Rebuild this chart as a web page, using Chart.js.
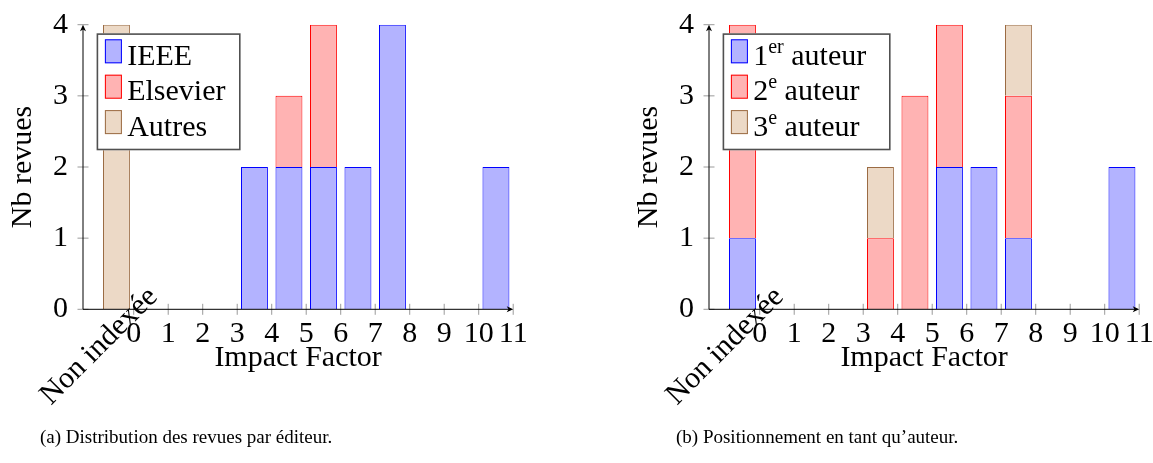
<!DOCTYPE html>
<html><head><meta charset="utf-8">
<script src="https://cdn.jsdelivr.net/npm/chart.js@4.4.1/dist/chart.umd.min.js"></script>
<style>
html,body{margin:0;padding:0;background:#fff;width:1153px;height:463px;overflow:hidden;}
#wrap{position:relative;width:1153px;height:463px;}
canvas{position:absolute;top:0;}
</style></head>
<body><div id="wrap">
<canvas id="c1" width="560" height="463" style="left:0"></canvas>
<canvas id="c2" width="527" height="463" style="left:626px"></canvas>
</div>
<script>
// ---- data ----
const binCenters = [-0.5, 0.5, 1.5, 2.5, 3.5, 4.5, 5.5, 6.5, 7.5, 8.5, 9.5, 10.5];
const ieee     = [0, 0, 0, 0, 2, 2, 2, 2, 4, 0, 0, 2];
const elsevier = [0, 0, 0, 0, 0, 1, 2, 0, 0, 0, 0, 0];
const autres   = [4, 0, 0, 0, 0, 0, 0, 0, 0, 0, 0, 0];
const auteur1  = [1, 0, 0, 0, 0, 0, 2, 2, 1, 0, 0, 2];
const auteur2  = [3, 0, 0, 0, 1, 3, 2, 0, 2, 0, 0, 0];
const auteur3  = [0, 0, 0, 0, 1, 0, 0, 0, 1, 0, 0, 0];
const namesA = ['IEEE', 'Elsevier', 'Autres'];
const namesB = ['1er auteur', '2e auteur', '3e auteur'];
const xTickValues = [0, 1, 2, 3, 4, 5, 6, 7, 8, 9, 10, 11];
const xTickLabels = ['0', '1', '2', '3', '4', '5', '6', '7', '8', '9', '10', '11'];
const yTickValues = [0, 1, 2, 3, 4];
const yTickLabels = ['0', '1', '2', '3', '4'];
const extraXLabel = 'Non indexée';
const extraXLabelAt = -1;
const xTitle = 'Impact Factor';
const yTitle = 'Nb revues';
const captionA = '(a) Distribution des revues par éditeur.';
const captionB = '(b) Positionnement en tant qu\u2019auteur.';

// ---- styles ----
const COLORS = [
  {bg: '#b3b3ff', bd: '#0000ff'},
  {bg: '#ffb3b3', bd: '#ff0000'},
  {bg: '#ecd9c6', bd: '#9b6b43'}
];
const FAMILY = '"Liberation Serif", "DejaVu Serif", serif';
const FONT = {family: FAMILY, size: 30};
const CANVAS_H = 463;
const AXIS_BOTTOM = 309.3;

function drawArrow(ctx, tx, ty, dx, dy) {
  const L = 6.5, W = 3, I = 1.8;
  const px = -dy, py = dx;
  ctx.beginPath();
  ctx.moveTo(tx, ty);
  ctx.lineTo(tx - dx * L + px * W, ty - dy * L + py * W);
  ctx.lineTo(tx - dx * (L - I), ty - dy * (L - I));
  ctx.lineTo(tx - dx * L - px * W, ty - dy * L - py * W);
  ctx.closePath();
  ctx.fill();
}

const axisPlugin = {
  id: 'axisDeco',
  afterDatasetsDraw(chart) {
    const {ctx, scales: {x, y}} = chart;
    const ax = x.left, ay = y.getPixelForValue(0);
    ctx.save();
    ctx.strokeStyle = '#9a9a9a';
    ctx.lineWidth = 1;
    ctx.beginPath();
    x.ticks.forEach(t => {
      const px = x.getPixelForValue(t.value);
      ctx.moveTo(px, ay - 5.5); ctx.lineTo(px, ay + 5.5);
    });
    y.ticks.forEach(t => {
      const py = y.getPixelForValue(t.value);
      ctx.moveTo(ax - 5.5, py); ctx.lineTo(ax + 5.5, py);
    });
    ctx.stroke();
    ctx.strokeStyle = '#000';
    ctx.fillStyle = '#000';
    ctx.lineWidth = 1;
    ctx.beginPath();
    ctx.moveTo(ax, ay); ctx.lineTo(ax, y.top + 3);
    ctx.moveTo(ax, ay); ctx.lineTo(x.right - 3, ay);
    ctx.stroke();
    drawArrow(ctx, ax, y.top, 0, -1);
    drawArrow(ctx, x.right, ay, 1, 0);
    ctx.font = FONT.size + 'px ' + FAMILY;
    ctx.textAlign = 'center';
    ctx.textBaseline = 'middle';
    ctx.translate(x.getPixelForValue(extraXLabelAt), ay + 37);
    ctx.rotate(-Math.PI / 4);
    ctx.fillText(extraXLabel, 0, 0);
    ctx.restore();
  }
};

// legend drawn inside the plot + caption below
const boxLegendPlugin = {
  id: 'boxLegend',
  afterDraw(chart, args, opts) {
    const {ctx} = chart;
    const {left, top, width, height} = opts;
    ctx.save();
    ctx.fillStyle = '#fff';
    ctx.fillRect(left, top, width, height);
    ctx.strokeStyle = '#505050';
    ctx.lineWidth = 1.6;
    ctx.strokeRect(left + 0.8, top + 0.8, width - 1.6, height - 1.6);
    chart.data.datasets.forEach((ds, i) => {
      const sy = top + 6 + i * 35.4;
      ctx.fillStyle = ds.backgroundColor;
      ctx.fillRect(left + 8.3, sy, 17, 24);
      ctx.strokeStyle = ds.borderColor;
      ctx.lineWidth = 1;
      ctx.strokeRect(left + 8.8, sy + 0.5, 16, 23);
      const base = top + 31.7 + i * 35.4;
      let tx = left + 30.6;
      ctx.fillStyle = '#000';
      ctx.textAlign = 'left';
      ctx.textBaseline = 'alphabetic';
      const m = ds.label.match(/^(\d)(er|e)( .*)$/);
      const parts = m ? [[m[1], 30, 0], [m[2], 20, 12], [m[3], 30, 0]] : [[ds.label, 30, 0]];
      parts.forEach(([txt, size, raise]) => {
        ctx.font = size + 'px ' + FAMILY;
        ctx.fillText(txt, tx, base - raise);
        tx += ctx.measureText(txt).width;
      });
    });
    // caption
    ctx.font = '19px ' + FAMILY;
    ctx.fillStyle = '#000';
    ctx.textAlign = 'left';
    ctx.textBaseline = 'alphabetic';
    ctx.fillText(opts.caption, opts.capX, opts.capY);
    ctx.restore();
  }
};

function makeChart(id, names, series, rightPad, legendWidth, caption, capX) {
  return new Chart(document.getElementById(id), {
    type: 'bar',
    data: {
      datasets: series.map((s, i) => ({
        label: names[i],
        data: binCenters.map((c, j) => ({x: c, y: s[j]})),
        backgroundColor: COLORS[i].bg,
        borderColor: COLORS[i].bd,
        borderWidth: 1,
        categoryPercentage: 0.78,
        barPercentage: 1
      }))
    },
    options: {
      responsive: false,
      animation: false,
      devicePixelRatio: 1,
      layout: {padding: {left: 0, top: 24.7, right: rightPad, bottom: 0}},
      plugins: {
        legend: {display: false},
        tooltip: {enabled: false},
        boxLegend: {left: 96.6, top: 33.3, width: legendWidth, height: 117, caption: caption, capX: capX, capY: 443}
      },
      scales: {
        x: {
          type: 'linear', stacked: true, min: -1.47, max: 11, offset: false,
          grid: {display: false, drawTicks: false}, border: {display: false},
          afterBuildTicks: s => { s.ticks = xTickValues.map(v => ({value: v})); },
          ticks: {
            callback: v => xTickLabels[xTickValues.indexOf(v)],
            font: FONT, color: '#000', padding: 7, maxRotation: 0, minRotation: 0, autoSkip: false
          },
          title: {display: true, text: xTitle, font: FONT, color: '#000', padding: {top: 0, bottom: 24 + (CANVAS_H - 400)}},
          afterFit: s => { s.height = CANVAS_H - AXIS_BOTTOM; s.paddingLeft = 0; s.paddingRight = 0; }
        },
        y: {
          stacked: true, min: 0, max: 4,
          grid: {display: false, drawTicks: false}, border: {display: false},
          afterBuildTicks: s => { s.ticks = yTickValues.map(v => ({value: v})); },
          ticks: {
            callback: v => yTickLabels[yTickValues.indexOf(v)],
            font: FONT, color: '#000', padding: 15
          },
          title: {display: true, text: yTitle, font: FONT, color: '#000', padding: {top: 5.3, bottom: 0}},
          afterFit: s => { s.width = 83; s.paddingTop = 0; s.paddingBottom = 0; }
        }
      }
    },
    plugins: [axisPlugin, boxLegendPlugin]
  });
}

makeChart('c1', namesA, [ieee, elsevier, autres], 560 - 513.2, 144, captionA, 40);
makeChart('c2', namesB, [auteur1, auteur2, auteur3], 527 - 513.2, 168, captionB, 50);
</script>
</body></html>
